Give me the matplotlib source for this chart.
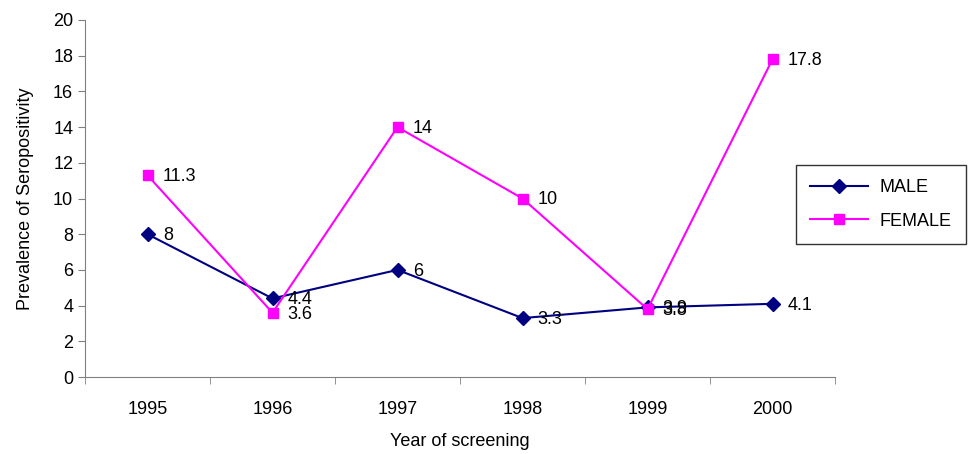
import matplotlib.pyplot as plt
import numpy as np

plt.rcParams['font.family'] = ['Liberation Sans', 'DejaVu Sans']

years = ['1995', '1996', '1997', '1998', '1999', '2000']
male = [8, 4.4, 6, 3.3, 3.9, 4.1]
female = [11.3, 3.6, 14, 10, 3.8, 17.8]

fig = plt.figure(figsize=(9.77, 4.54), dpi=100)
ax = fig.add_axes([85/977, 1-377/454, 750/977, 357/454])

x = np.arange(len(years))
ax.plot(x, male, color='#000080', marker='D', markersize=7, linewidth=1.5, label='MALE')
ax.plot(x, female, color='#FF00FF', marker='s', markersize=7, linewidth=1.5, label='FEMALE')

for xi, v in zip(x, male):
    ax.annotate(f'{v:g}', (xi, v), xytext=(11, -1), textcoords='offset points',
                va='center', ha='left', fontsize=13)
for xi, v in zip(x, female):
    ax.annotate(f'{v:g}', (xi, v), xytext=(11, -1), textcoords='offset points',
                va='center', ha='left', fontsize=13)

ax.set_xlim(-0.5, len(years) - 0.5)
ax.set_ylim(0, 20)
ax.set_yticks(range(0, 21, 2))
ax.set_xticks(x)
ax.set_xticklabels(years)
ax.set_xticks(np.arange(-0.5, len(years)), minor=True)
ax.tick_params(axis='x', which='major', length=0, pad=17, labelsize=13)
ax.tick_params(axis='x', which='minor', length=5, color='#808080')
ax.tick_params(axis='y', length=5, color='#808080', labelsize=13)

for s in ['top', 'right']:
    ax.spines[s].set_visible(False)
for s in ['left', 'bottom']:
    ax.spines[s].set_color('#808080')

ax.set_xlabel('Year of screening', fontsize=13, labelpad=11)
ax.set_ylabel('Prevalence of Seropositivity', fontsize=13, labelpad=14)

leg = fig.legend(loc='upper left', bbox_to_anchor=(787/977, 1-156/454), fontsize=13,
                 frameon=True, fancybox=False, edgecolor='black', borderpad=0.8,
                 labelspacing=0.9, handlelength=3.2, handletextpad=0.6)
leg.get_frame().set_linewidth(1.0)

fig.savefig('out.png', dpi=100)
